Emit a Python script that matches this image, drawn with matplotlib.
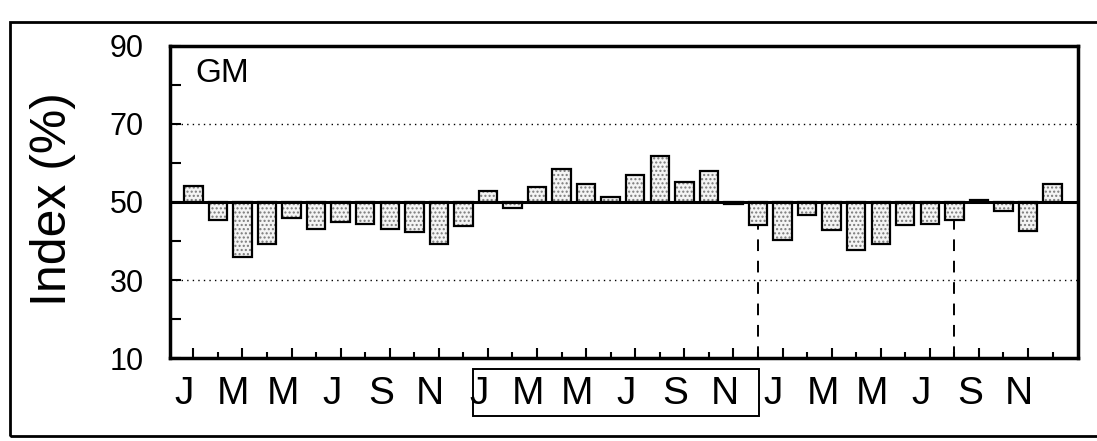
import numpy as np
import matplotlib
matplotlib.use("Agg")
import matplotlib.pyplot as plt
from matplotlib.patches import Rectangle
from matplotlib.transforms import ScaledTranslation, blended_transform_factory

plt.rcParams["font.family"] = ["Liberation Sans", "DejaVu Sans"]

# --- data (index %, one bar per month, 3 years) ---
year1 = [54.2, 45.3, 35.9, 39.2, 45.9, 43.1, 44.8, 44.4, 43.2, 42.4, 39.2, 43.8]
year2 = [52.9, 48.5, 53.9, 58.4, 54.5, 51.4, 56.9, 61.8, 55.0, 57.9, 49.4, 44.1]
year3 = [40.2, 46.6, 42.9, 37.8, 39.2, 44.0, 44.4, 45.4, 50.4, 47.6, 42.5, 54.7]
month_labels = ["J", "M", "M", "J", "S", "N"]
baseline = 50
dashed_months = [23, 31]  # months with a dashed drop line to the axis
panel_label = "GM"

values = np.array(year1 + year2 + year3)
months = np.arange(len(values))

fig = plt.figure(figsize=(10.97, 4.41), dpi=100)
ax = fig.add_axes([0.155, 0.188, 0.828, 0.708])

# stippled fill, then black outline
ax.bar(months, values - baseline, bottom=baseline, width=0.75,
       color="#f4f4f4", edgecolor="#7a7a7a", hatch="....", linewidth=0, zorder=2)
ax.bar(months, values - baseline, bottom=baseline, width=0.75,
       fill=False, edgecolor="black", linewidth=1.6, zorder=3)

ax.axhline(baseline, color="black", linewidth=2.2, zorder=4)
for yv in (30, 70):
    ax.axhline(yv, color="black", linewidth=1, linestyle=(0, (1, 3)), zorder=1)

for m in dashed_months:
    ax.plot([m, m], [10, values[m]], color="black", linewidth=1.4,
            linestyle=(0, (6, 5)), zorder=1)

ax.text(0.1, 83, panel_label, fontsize=24, va="center", ha="left")

ax.set_xlim(-0.95, 36.05)
ax.set_ylim(10, 90)

ax.set_yticks([10, 30, 50, 70, 90])
ax.set_yticks([20, 40, 60, 80], minor=True)
ax.set_xticks(months[::2])
ax.set_xticklabels(month_labels * 3, fontsize=28)
ax.set_xticks(months[1::2], minor=True)

ax.tick_params(axis="both", which="both", direction="in", width=1.5)
ax.tick_params(axis="y", which="major", length=8, pad=19, labelsize=22)
ax.tick_params(axis="y", which="minor", length=8)
ax.tick_params(axis="x", which="major", length=7, pad=13)
ax.tick_params(axis="x", which="minor", length=4)

shift = ScaledTranslation(-9 / 100, 0, fig.dpi_scale_trans)
for lab in ax.get_xticklabels():
    lab.set_transform(lab.get_transform() + shift)

for sp in ax.spines.values():
    sp.set_linewidth(2.5)

ax.set_ylabel("Index (%)", fontsize=36)
ax.yaxis.set_label_coords(-0.1035, 0.51)

# box round the second year's month labels
trans = blended_transform_factory(ax.transData, ax.transAxes)
ax.add_patch(Rectangle((11.4, -0.186), 11.66, 0.151, transform=trans,
                       fill=False, edgecolor="black", linewidth=1.4,
                       clip_on=False))

# outer page frame
fig.add_artist(Rectangle((10 / 1097, 1 - 436 / 441), 1.1, (436 - 22) / 441,
                         transform=fig.transFigure, fill=False,
                         edgecolor="black", linewidth=2))

fig.savefig("out.png", dpi=100)
